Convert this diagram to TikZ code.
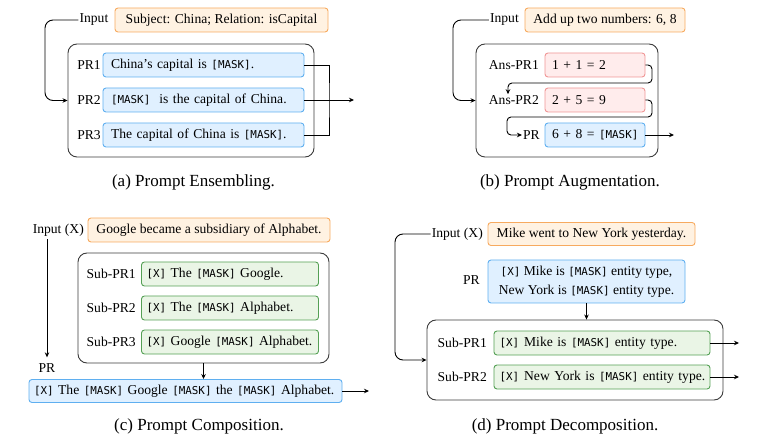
\documentclass[tikz,border=0pt]{standalone}
\usepackage{fontspec}
\setmainfont{Liberation Serif}
\setmonofont{DejaVu Sans Mono}[Scale=0.8]
\usetikzlibrary{arrows.meta}
\definecolor{orF}{RGB}{255,242,226}
\definecolor{orD}{RGB}{247,170,95}
\definecolor{blF}{RGB}{224,240,255}
\definecolor{blD}{RGB}{95,175,240}
\definecolor{grF}{RGB}{234,245,230}
\definecolor{grD}{RGB}{85,160,85}
\definecolor{pkF}{RGB}{255,236,236}
\definecolor{pkD}{RGB}{240,150,150}
\definecolor{otD}{RGB}{60,60,60}
\newcommand{\mk}{\texttt{[MASK]}}
\newcommand{\xx}{\texttt{[X]}}
\begin{document}
\begin{tikzpicture}[x=1pt,y=-1pt,
  every node/.style={font=\fontsize{13.6}{16.5}\selectfont},
  lbl/.style={inner sep=1pt},
  captxt/.style={inner sep=0pt,font=\fontsize{17}{20}\selectfont},
  bx/.style={draw, line width=0.9pt, rounded corners=3pt, minimum height=24pt, inner xsep=7pt, inner ysep=0pt},
  orbox/.style={bx, fill=orF, draw=orD, align=center},
  blbox/.style={bx, fill=blF, draw=blD},
  grbox/.style={bx, fill=grF, draw=grD},
  pkbox/.style={bx, fill=pkF, draw=pkD},
  outbox/.style={draw=otD, line width=0.9pt, rounded corners=9pt, inner sep=0pt},
  conn/.style={line width=0.9pt, draw=black},
  arr/.style={conn, -{Stealth[length=5pt,width=4.5pt]}},
]
\useasboundingbox (0,0) rectangle (773,443);

% ---------------- (a) ----------------
\node[outbox, minimum width=246pt, minimum height=113pt] (aout) at (191,100.5) {};
\node[orbox, minimum width=213pt] (ainp) at (221.5,20) {Subject: China; Relation: isCapital};
\node[lbl, anchor=east] (ainl) at (109.5,20) {Input};
\node[blbox, text width=185pt, align=left, inner xsep=8pt] (apr1) at (203.5,65) {\mbox{China’s capital is \mk.}};
\node[blbox, text width=185pt, align=left, inner xsep=8pt] (apr2) at (203.5,100) {\mbox{\mk\ \ is the capital of China.}};
\node[blbox, text width=185pt, align=left, inner xsep=8pt] (apr3) at (203.5,135) {\mbox{The capital of China is \mk.}};
\node[lbl, anchor=east] (apr1l) at (102,65) {PR1};
\node[lbl, anchor=east] (apr2l) at (102,100) {PR2};
\node[lbl, anchor=east] (apr3l) at (102,135) {PR3};
\coordinate (aj) at (329,100);
\coordinate (aend) at (354,100);
\coordinate (aturn) at (45,60);
\draw[conn] (apr1.east) -| (aj) |- (apr3.east);
\draw[arr] (apr2.east) -- (aend);
\draw[arr, rounded corners=8pt] (ainl.west) -| (aturn) |- (aout.west);
\node[captxt] (acap) at (193.5,182) {(a) Prompt Ensembling.};

% ---------------- (b) ----------------
\node[outbox, minimum width=182pt, minimum height=113pt] (bout) at (567,100.5) {};
\node[orbox, minimum width=160pt] (binp) at (605,20) {Add up two numbers: 6, 8};
\node[lbl, anchor=east] (binl) at (520,20) {Input};
\node[pkbox, text width=86pt, align=left] (bap1) at (595,65) {\mbox{1 + 1 = 2}};
\node[pkbox, text width=86pt, align=left] (bap2) at (595,100) {\mbox{2 + 5 = 9}};
\node[blbox, text width=86pt, align=left] (bpr) at (595,135) {\mbox{6 + 8 = \mk}};
\node[lbl, anchor=east] (bap1l) at (540,65) {Ans-PR1};
\node[lbl, anchor=east] (bap2l) at (540,100) {Ans-PR2};
\node[lbl, anchor=east] (bprl) at (541,135) {PR};
\coordinate (b1a) at (652,83);
\coordinate (b1b) at (508,83);
\coordinate (b2a) at (652,117);
\coordinate (b2b) at (507,117);
\coordinate (bend) at (674,135);
\coordinate (bturn) at (453,60);
\draw[arr, rounded corners=4pt] (bap1.east) -| (b1a) -- (b1b) -- (b1b |- bap2l.north);
\draw[arr, rounded corners=4pt] (bap2.east) -| (b2a) -- (b2b) |- (bprl.west);
\draw[arr] (bpr.east) -- (bend);
\draw[arr, rounded corners=8pt] (binl.west) -| (bturn) |- (bout.west);
\node[captxt] (bcap) at (570,182) {(b) Prompt Augmentation.};

% ---------------- (c) ----------------
\node[outbox, minimum width=251pt, minimum height=110pt] (cout) at (203.5,308) {};
\node[orbox, minimum width=242pt] (cinp) at (209,230) {Google became a subsidiary of Alphabet.};
\node[lbl, anchor=east] (cinl) at (85,230) {Input (X)};
\node[grbox, text width=167pt, align=left, inner xsep=5pt] (cs1) at (230,274) {\mbox{\xx{} The \mk{} Google.}};
\node[grbox, text width=167pt, align=left, inner xsep=5pt] (cs2) at (230,308) {\mbox{\xx{} The \mk{} Alphabet.}};
\node[grbox, text width=167pt, align=left, inner xsep=5pt] (cs3) at (230,342) {\mbox{\xx{} Google \mk{} Alphabet.}};
\node[lbl, anchor=east] (cs1l) at (137,274) {Sub-PR1};
\node[lbl, anchor=east] (cs2l) at (137,308) {Sub-PR2};
\node[lbl, anchor=east] (cs3l) at (137,342) {Sub-PR3};
\node[lbl] (cprl) at (47,368) {PR};
\node[blbox, text width=303pt, align=left, inner xsep=5pt, minimum height=23pt] (cpr) at (185.5,391) {\mbox{\xx{} The \mk{} Google \mk{} the \mk{} Alphabet.}};
\coordinate (cend) at (369,391);
\draw[arr, shorten >=5pt, shorten <=2pt] (cinl.south -| cprl) -- (cprl.north);
\draw[arr] (cout.south) -- (cout.south |- cpr.north);
\draw[arr] (cpr.east) -- (cend);
\node[captxt] (ccap) at (199,426) {(c) Prompt Composition.};

% ---------------- (d) ----------------
\node[outbox, minimum width=296pt, minimum height=80pt] (dout) at (575,360) {};
\node[orbox, minimum width=207pt, minimum height=23pt] (dinp) at (591.5,234) {Mike went to New York yesterday.};
\node[lbl, anchor=east] (dinl) at (484,234) {Input (X)};
\node[blbox, minimum width=197pt, minimum height=43pt, align=center, font=\fontsize{13.6}{18.5}\selectfont] (dpr) at (586.5,281.5) {\xx{} Mike is \mk{} entity type,\\New York is \mk{} entity type.};
\node[lbl, anchor=east] (dprl) at (481,280) {PR};
\node[grbox, text width=205pt, align=left, inner xsep=5.5pt] (ds1) at (602,343) {\mbox{\xx\hspace{5pt}Mike is \mk{} entity type.}};
\node[grbox, text width=205pt, align=left, inner xsep=5.5pt] (ds2) at (602,377) {\mbox{\xx\hspace{5pt}New York is \mk{} entity type.}};
\node[lbl, anchor=east] (ds1l) at (488,343) {Sub-PR1};
\node[lbl, anchor=east] (ds2l) at (488,377) {Sub-PR2};
\coordinate (d1end) at (739,343);
\coordinate (d2end) at (739,377);
\coordinate (dturn) at (395,300);
\draw[arr] (dpr.south) -- (dpr.south |- dout.north);
\draw[arr] (ds1.east) -- (d1end);
\draw[arr] (ds2.east) -- (d2end);
\draw[arr, rounded corners=8pt] (dinl.west) -| (dturn) |- (dout.west);
\node[captxt] (dcap) at (565,426) {(d) Prompt Decomposition.};
\end{tikzpicture}
\end{document}
